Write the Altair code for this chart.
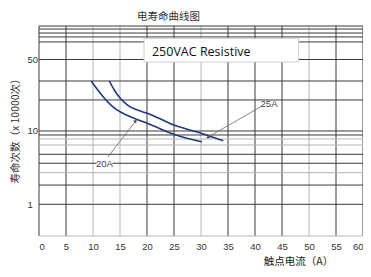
import altair as alt
import pandas as pd

# ---- data ----
x_ticks = list(range(0, 61, 5))
x_grid_shade = ["dark", "dark", "grey", "grey", "dark", "dark", "grey",
                "dark", "dark", "dark", "grey", "dark", "dark"]

y_grid = [0.3694, 1, 1.83, 2.7, 3.63, 4.81, 6.44, 7.78, 8.82, 10, 26.5, 48.1,
          94.5, 164, 192, 217, 246, 270.7]
y_grid_shade = ["grey", "dark", "dark", "grey", "dark", "dark", "grey", "grey",
                "dark", "dark", "dark", "dark", "dark", "dark", "dark", "dark",
                "dark", "dark"]
y_tick_values = [1, 10, 94.5]
y_tick_labels = ["1", "10", "50"]

c20_x = [9.67, 10.88, 12.11, 13.63, 15.17, 17.61, 20.06, 22.2, 24.95, 27.4, 30.15]
c20_y = [48.1, 36.3, 27.9, 21.5, 18.0, 14.9, 12.74, 10.9, 9.02, 7.95, 7.15]
c25_x = [13.03, 13.94, 15.05, 16.39, 18.22, 20.06, 22.2, 24.95, 28.62, 31.38, 34.13]
c25_y = [48.1, 36.3, 27.9, 22.6, 19.3, 17.4, 14.9, 12.07, 10.0, 8.63, 7.37]

labels_text = ["20A", "25A"]
labels_x = [12.1, 42.6]
labels_y = [3.6, 23.1]

arrow_id = ["20A", "20A", "25A", "25A"]
arrow_x = [12.75, 17.9, 41.1, 31.25]
arrow_y = [4.42, 13.7, 21.5, 8.2]
head_x = [17.9, 31.25]
head_y = [13.7, 8.2]
head_angle = [38, 240]

box_text = "250VAC Resistive"
box_x = [19.45, 48.07]
box_y = [87.4, 184]
box_text_x = 20.92
box_text_y = 105.5

title_text = "电寿命曲线图"
title_x = 18.15
title_y = 325
y_title = "寿命次数（x 10000次）"
x_title = "触点电流（A）"

# ---- scales / axes ----
XS = alt.Scale(domain=[0, 60], nice=False, zero=False)
YS = alt.Scale(type="log", domain=[y_grid[0], y_grid[-1]], nice=False)
SHADE = alt.Scale(domain=["dark", "grey"], range=["#3a3a3a", "#b5b5b5"])

label_expr = " : ".join(
    f"datum.value == {v} ? '{t}'" for v, t in zip(y_tick_values, y_tick_labels)
) + " : ''"

num_font = "Liberation Sans"
cjk_font = "Noto Sans CJK SC"

XA = alt.Axis(
    values=x_ticks, title=x_title, titleFont=cjk_font, titleFontSize=10.5,
    titleFontWeight="normal", titleColor="#222", titleX=259, titleY=25,
    titleAlign="center", titleBaseline="middle", labelFont=num_font,
    labelFontSize=9.5, labelColor="#333", labelPadding=5, grid=False,
    domain=False, ticks=False)
YA = alt.Axis(
    values=y_tick_values, labelExpr=label_expr, title=y_title,
    titleFont=cjk_font, titleFontSize=10.5, titleFontWeight="normal",
    titleColor="#333", titleX=-24, titleY=102, titleAlign="center",
    titleBaseline="middle", labelFont=num_font, labelFontSize=9.5,
    labelColor="#333", labelAlign="left", labelPadding=12, grid=False,
    domain=False, ticks=False)


def X(f):
    return alt.X(f, scale=XS, axis=XA)


def Y(f):
    return alt.Y(f, scale=YS, axis=YA)


vgrid = pd.DataFrame({"x": x_ticks, "shade": x_grid_shade})
hgrid = pd.DataFrame({"y": y_grid, "shade": y_grid_shade})
curves = pd.DataFrame({
    "x": c20_x + c25_x,
    "y": c20_y + c25_y,
    "series": ["20A"] * len(c20_x) + ["25A"] * len(c25_x),
})
labels = pd.DataFrame({"t": labels_text, "x": labels_x, "y": labels_y})
arrows = pd.DataFrame({"id": arrow_id, "x": arrow_x, "y": arrow_y})
heads = pd.DataFrame({"x": head_x, "y": head_y, "a": head_angle})
box = pd.DataFrame({"x": [box_x[0]], "x2": [box_x[1]], "y": [box_y[0]], "y2": [box_y[1]],
                    "t": [box_text], "tx": [box_text_x], "ty": [box_text_y]})
lbl_bg = pd.DataFrame({"x": [10.64], "x2": [13.58], "y": [3.13], "y2": [4.28]})
title_df = pd.DataFrame({"t": [title_text], "x": [title_x], "y": [title_y]})

v_layer = alt.Chart(vgrid).mark_rule(strokeWidth=1).encode(
    x=X("x:Q"),
    color=alt.Color("shade:N", scale=SHADE, legend=None),
)

h_layer = alt.Chart(hgrid).mark_rule(strokeWidth=1).encode(
    y=Y("y:Q"),
    color=alt.Color("shade:N", scale=SHADE, legend=None),
)

box_rect = alt.Chart(box).mark_rect(fill="white", stroke="#cfcfcf", strokeWidth=1).encode(
    x=X("x:Q"), x2="x2:Q", y=Y("y:Q"), y2="y2:Q",
)
box_label = alt.Chart(box).mark_text(
    align="left", baseline="alphabetic", font="Open Sans", fontSize=12.5, color="#111"
).encode(x=X("tx:Q"), y=Y("ty:Q"), text="t:N")

curve_layer = alt.Chart(curves).mark_line(
    interpolate="monotone", color="#1d3a7c", strokeWidth=1.6
).encode(x=X("x:Q"), y=Y("y:Q"), detail="series:N")

arrow_layer = alt.Chart(arrows).mark_line(color="#666", strokeWidth=0.8).encode(
    x=X("x:Q"), y=Y("y:Q"), detail="id:N",
)
head_layer = alt.Chart(heads).mark_point(
    shape="triangle-up", filled=True, color="#555", size=16, opacity=1
).encode(x=X("x:Q"), y=Y("y:Q"), angle=alt.Angle("a:Q", scale=None))

bg_layer = alt.Chart(lbl_bg).mark_rect(fill="white").encode(
    x=X("x:Q"), x2="x2:Q", y=Y("y:Q"), y2="y2:Q",
)
label_layer = alt.Chart(labels).mark_text(
    font=num_font, fontSize=9.5, color="#444", baseline="middle", align="center"
).encode(x=X("x:Q"), y=Y("y:Q"), text="t:N")

title_layer = alt.Chart(title_df).mark_text(
    font=cjk_font, fontSize=10.5, color="#333", baseline="alphabetic", align="left"
).encode(x=X("x:Q"), y=Y("y:Q"), text="t:N")

chart = alt.layer(
    v_layer, h_layer, box_rect, box_label, curve_layer, arrow_layer, head_layer,
    bg_layer, label_layer, title_layer,
).properties(
    width=324, height=210,
    padding={"left": 31, "top": 18, "right": 0, "bottom": 32},
    autosize=alt.AutoSizeParams(type="none"),
).configure_view(stroke=None)

chart.save("out.html", embed_options={"renderer": "svg", "actions": False})
